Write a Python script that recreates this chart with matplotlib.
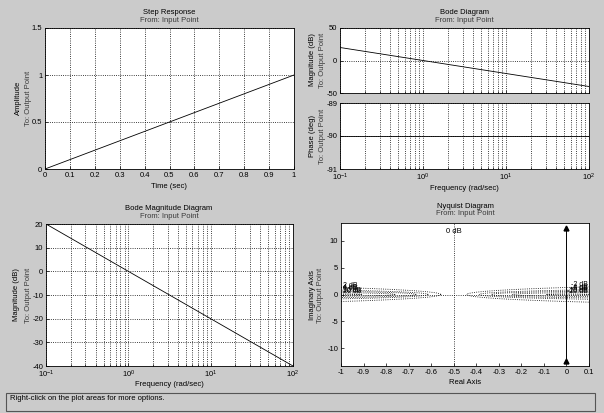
import matplotlib
matplotlib.use('Agg')
import matplotlib.pyplot as plt
from matplotlib.patches import Rectangle
import numpy as np

plt.rcParams['font.family'] = ['Liberation Sans', 'DejaVu Sans']
plt.rcParams['font.size'] = 5.5
plt.rcParams['axes.unicode_minus'] = False
plt.rcParams['mathtext.fontset'] = 'custom'
plt.rcParams['mathtext.rm'] = 'Liberation Sans'

# ---- data ----
step_t = [0.0, 1.0]
step_amp = [0.0, 1.0]

bode_w = [0.1, 100.0]
bode_mag = [20.0, -40.0]
bode_phase = [-90.0, -90.0]

nyq_re = [0.0, 0.0]
nyq_im = [-12.3, 12.3]

mcircle_db = [-20, -10, -6, -4, -2, 0, 2, 4, 6, 10, 20]

BG = '#cbcbcb'
SUB = '#3a3a3a'
W, H = 604, 413

fig = plt.figure(figsize=(W / 100, H / 100), dpi=100, facecolor=BG)


def box(l, r, t, b):
    return [l / W, 1 - b / H, (r - l) / W, (b - t) / H]


def ftext(x, y, s, **kw):
    fig.text(x / W, 1 - y / H, s, **kw)


def style(ax):
    ax.set_facecolor('white')
    ax.tick_params(direction='in', length=2.5, width=0.5, pad=2, labelsize=5.5)
    ax.tick_params(which='minor', direction='in', length=1.5, width=0.5)
    for s in ax.spines.values():
        s.set_linewidth(0.6)
    ax.grid(True, which='major', linestyle=':', color='black', linewidth=0.6)


def ylab(x1, x2, yc, main):
    ftext(x1, yc, main, rotation=90, ha='center', va='center')
    ftext(x2, yc, 'To: Output Point', rotation=90, ha='center', va='center', color=SUB)


def title(xc, y1, y2, main):
    ftext(xc, y1, main, ha='center', va='center')
    ftext(xc, y2, 'From: Input Point', ha='center', va='center', color=SUB)


# Step response
ax1 = fig.add_axes(box(45, 294, 28, 169))
style(ax1)
ax1.plot(step_t, step_amp, color='black', lw=0.6)
ax1.set_xlim(0, 1)
ax1.set_ylim(0, 1.5)
ax1.set_xticks(np.arange(0, 1.01, 0.1))
ax1.set_xticklabels(['0', '0.1', '0.2', '0.3', '0.4', '0.5', '0.6', '0.7', '0.8', '0.9', '1'])
ax1.set_yticks([0, 0.5, 1, 1.5])
ax1.set_yticklabels(['0', '0.5', '1', '1.5'])
title(169, 12, 21, 'Step Response')
ylab(18, 29, 98, 'Amplitude')
ftext(169, 186, 'Time (sec)', ha='center', va='center')

# Bode diagram (mag + phase)
ax2 = fig.add_axes(box(340, 589, 28, 93))
ax3 = fig.add_axes(box(340, 589, 103, 169))
for ax in (ax2, ax3):
    ax.set_xscale('log')
    style(ax)
    ax.grid(True, which='minor', axis='x', linestyle=':', color='black', linewidth=0.6)
    ax.set_xlim(0.1, 100)
ax2.plot(bode_w, bode_mag, color='black', lw=0.6)
ax2.set_ylim(-50, 50)
ax2.set_yticks([-50, 0, 50])
ax2.tick_params(axis='x', which='both', labelbottom=False)
ax3.plot(bode_w, bode_phase, color='black', lw=0.6)
ax3.set_ylim(-91, -89)
ax3.set_yticks([-91, -90, -89])
title(464, 12, 21, 'Bode Diagram')
ylab(312, 323, 60, 'Magnitude (dB)')
ylab(312, 323, 136, 'Phase (deg)')
ftext(464, 188, 'Frequency (rad/sec)', ha='center', va='center')

# Bode magnitude
ax4 = fig.add_axes(box(46, 293, 224, 366))
ax4.set_xscale('log')
style(ax4)
ax4.grid(True, which='minor', axis='x', linestyle=':', color='black', linewidth=0.6)
ax4.plot(bode_w, bode_mag, color='black', lw=0.6)
ax4.set_xlim(0.1, 100)
ax4.set_ylim(-40, 20)
ax4.set_yticks(np.arange(-40, 21, 10))
title(169, 209, 216, 'Bode Magnitude Diagram')
ylab(17, 28, 295, 'Magnitude (dB)')
ftext(169, 384, 'Frequency (rad/sec)', ha='center', va='center')

# Nyquist with M-circle grid
ax5 = fig.add_axes(box(341, 589, 223, 366))
style(ax5)
ax5.grid(False)
ax5.set_xlim(-1, 0.1)
ax5.set_ylim(-13.3, 13.3)
th = np.linspace(0, 2 * np.pi, 2000)
for db in mcircle_db:
    if db == 0:
        ax5.axvline(-0.5, color='black', linestyle=':', lw=0.6)
        ax5.text(-0.5, 11.8, '0 dB', ha='center', va='center')
        continue
    m = 10 ** (db / 20)
    c = -m * m / (m * m - 1)
    r = abs(m / (m * m - 1))
    ax5.plot(c + r * np.cos(th), r * np.sin(th), color='black', linestyle=':', lw=0.6)
    xe = -1 if db > 0 else 0.1
    ye = np.sqrt(max(r * r - (xe - c) ** 2, 0))
    ax5.text(xe + (0.008 if db > 0 else -0.004), ye + 0.45, '%d dB' % db,
             ha='left' if db > 0 else 'right', va='center', fontsize=5)
ax5.axhline(0, color='black', linestyle=':', lw=0.6)
ax5.plot(nyq_re, nyq_im, color='black', lw=0.7)
ax5.plot(nyq_re, nyq_im, linestyle='none', marker='^', color='black', ms=3.5)
ax5.set_xticks(np.arange(-1, 0.11, 0.1))
ax5.set_xticklabels(['-1', '-0.9', '-0.8', '-0.7', '-0.6', '-0.5', '-0.4', '-0.3', '-0.2', '-0.1', '0', '0.1'])
ax5.set_yticks([-10, -5, 0, 5, 10])
title(465, 206, 213, 'Nyquist Diagram')
ylab(312, 321, 295, 'Imaginary Axis')
ftext(465, 382, 'Real Axis', ha='center', va='center')

# status bar
fig.patches.append(Rectangle((6 / W, 1 - 411 / H), 589 / W, 18 / H, transform=fig.transFigure,
                             facecolor=BG, edgecolor='#555555', lw=0.8))
ftext(10, 398, 'Right-click on the plot areas for more options.', ha='left', va='center')

fig.savefig('out.png', dpi=100, facecolor=BG)
